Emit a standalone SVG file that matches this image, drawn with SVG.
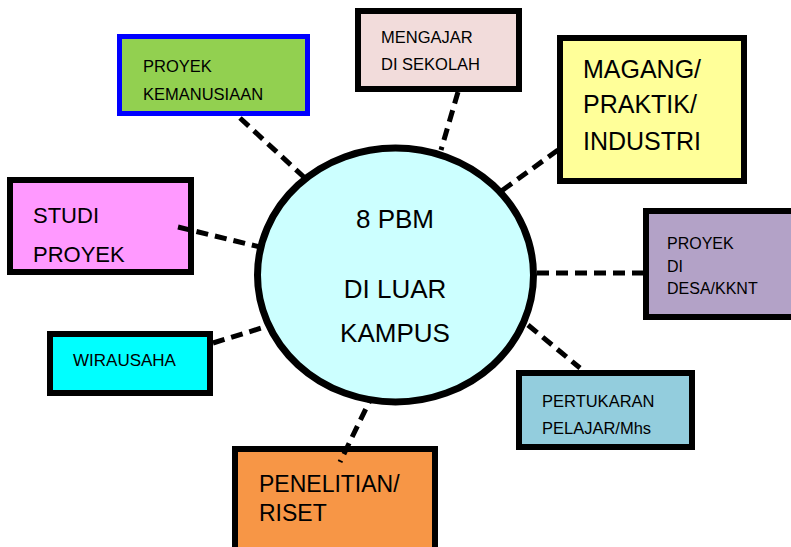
<svg xmlns="http://www.w3.org/2000/svg" width="791" height="547" viewBox="0 0 791 547">
<style>
.box{stroke:#000;stroke-width:6;}
.t{font-family:"Liberation Sans",Arial,sans-serif;fill:#000;}
.c{stroke:#000;stroke-width:5;stroke-dasharray:12 7;fill:none;}
</style>
<rect width="791" height="547" fill="#fff"/>
<g id="kemanusiaan">
<rect x="119.5" y="36.5" width="188" height="77" fill="#92D050" stroke="#0000FF" stroke-width="5"/>
<text class="t" x="143" y="72" font-size="16.5">PROYEK</text>
<text class="t" x="143" y="100" font-size="16.5">KEMANUSIAAN</text>
</g>
<g id="mengajar">
<rect class="box" x="358" y="11" width="161" height="78" fill="#F2DCDB"/>
<text class="t" x="381" y="43" font-size="16.5">MENGAJAR</text>
<text class="t" x="381" y="70" font-size="16.5">DI SEKOLAH</text>
</g>
<g id="magang">
<rect class="box" x="560" y="38" width="184" height="143" fill="#FFFF99"/>
<text class="t" x="583" y="78" font-size="25">MAGANG/</text>
<text class="t" x="583" y="113" font-size="25">PRAKTIK/</text>
<text class="t" x="583" y="150" font-size="25">INDUSTRI</text>
</g>
<g id="studi">
<rect class="box" x="10" y="180" width="181" height="92" fill="#FF99FF"/>
<text class="t" x="33" y="223" font-size="22">STUDI</text>
<text class="t" x="33" y="262" font-size="22">PROYEK</text>
</g>
<g id="desa">
<rect class="box" x="646" y="211" width="150" height="106" fill="#B3A2C7"/>
<text class="t" x="667" y="249" font-size="16">PROYEK</text>
<text class="t" x="667" y="272" font-size="16">DI</text>
<text class="t" x="667" y="294" font-size="16">DESA/KKNT</text>
</g>
<g id="wirausaha">
<rect class="box" x="50" y="334" width="160" height="59" fill="#00FFFF"/>
<text class="t" x="73" y="366" font-size="17">WIRAUSAHA</text>
</g>
<g id="pertukaran">
<rect class="box" x="519" y="373" width="173" height="74" fill="#93CDDD"/>
<text class="t" x="542" y="407" font-size="16.5">PERTUKARAN</text>
<text class="t" x="542" y="434" font-size="16.5">PELAJAR/Mhs</text>
</g>
<g id="penelitian">
<rect class="box" x="235" y="449" width="200" height="110" fill="#F79646"/>
<text class="t" x="259" y="492" font-size="23">PENELITIAN/</text>
<text class="t" x="259" y="521" font-size="23">RISET</text>
</g>
<g id="connectors">
<line class="c" x1="240" y1="118" x2="306" y2="179"/>
<line class="c" x1="458" y1="92" x2="441" y2="150"/>
<line class="c" x1="558" y1="150" x2="500" y2="192"/>
<line class="c" x1="178" y1="227" x2="260" y2="247"/>
<line class="c" x1="537" y1="273" x2="645" y2="273"/>
<line class="c" x1="213" y1="343" x2="268" y2="326"/>
<line class="c" x1="528" y1="325" x2="580" y2="368"/>
<line class="c" x1="374" y1="392" x2="340" y2="462"/>
</g>
<g id="center">
<ellipse cx="395.5" cy="275" rx="138" ry="127" fill="#CCFFFF" stroke="#000" stroke-width="7"/>
<text class="t" x="395" y="228" font-size="26" text-anchor="middle">8 PBM</text>
<text class="t" x="395" y="298" font-size="26" text-anchor="middle">DI LUAR</text>
<text class="t" x="395" y="342" font-size="26" text-anchor="middle">KAMPUS</text>
</g>
</svg>
